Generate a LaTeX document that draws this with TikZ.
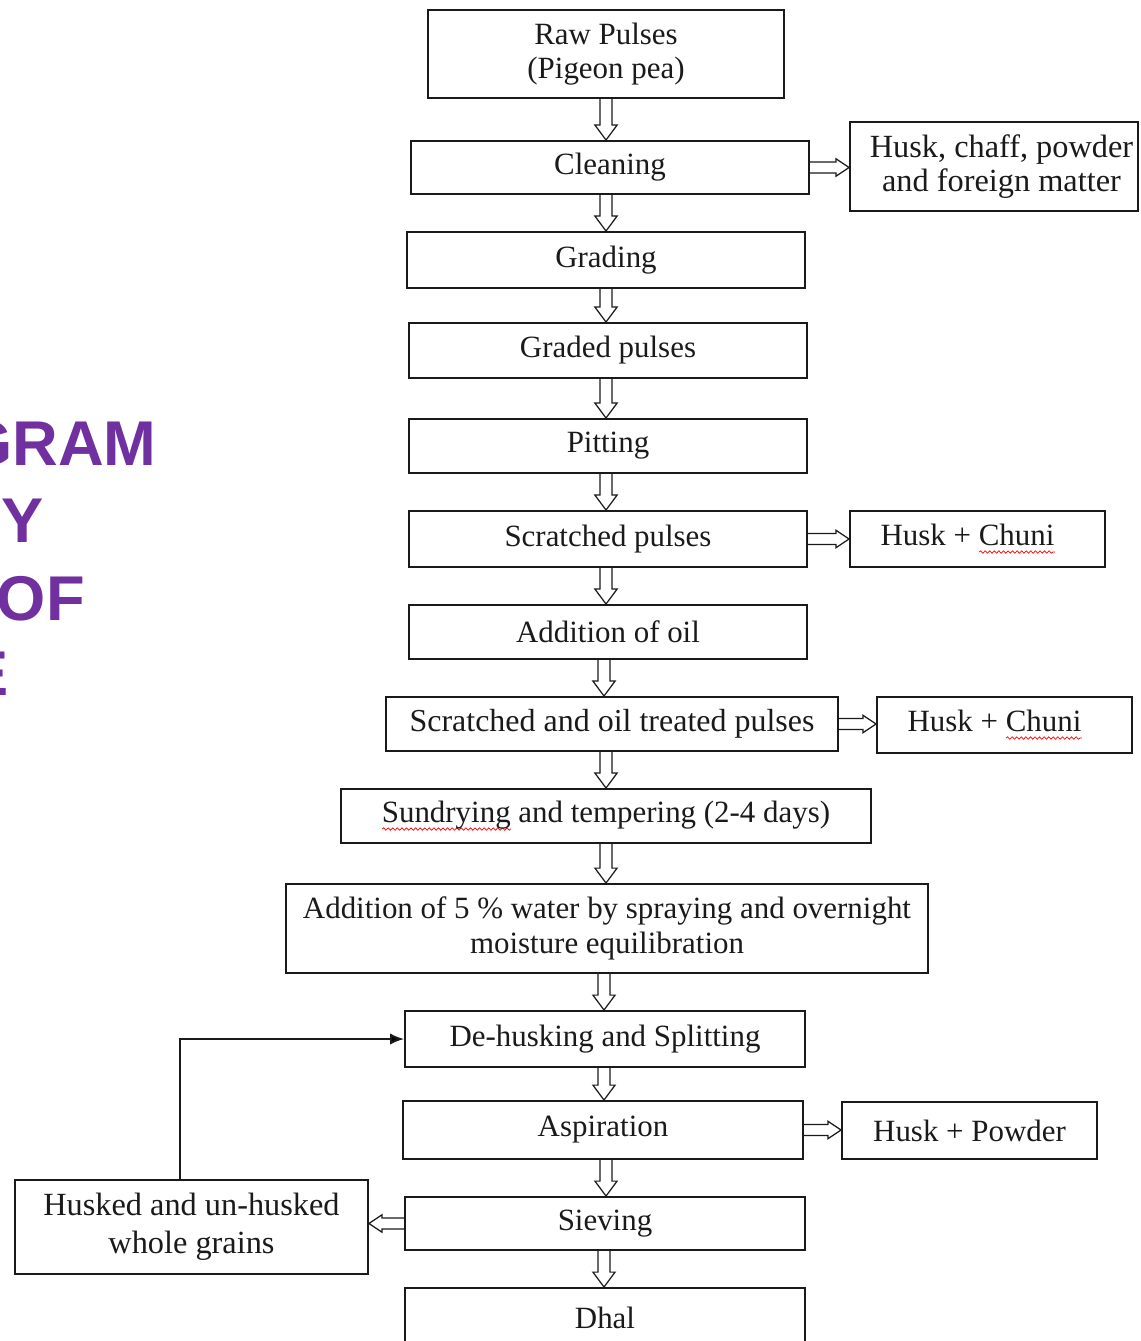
\documentclass[tikz,border=0pt]{standalone}
\usepackage{fontspec}
\setmainfont{Liberation Serif}
\newfontfamily\headfont{Liberation Sans}
\usetikzlibrary{calc,arrows.meta,decorations.pathmorphing}
\definecolor{ttl}{HTML}{7030A0}
\definecolor{ink}{HTML}{1A1A1A}
\newsavebox\spbox
\newcommand\spell[1]{\sbox\spbox{#1}\rlap{\raisebox{-3.5pt}{\tikz[baseline=0pt,x=1pt,y=1pt]\draw[red, line width=0.4pt, decorate, decoration={snake,amplitude=0.7pt,segment length=2.6pt}] (0,0) -- (\wd\spbox,0);}}\usebox\spbox}
% hollow block arrows drawn between named nodes
\newcommand\dnarr[3]{\draw[hol] let \p1=(#1.south -| #3), \p2=(#2.north -| #3) in
  (\x1-3.4pt,\y1) -- (\x1-3.4pt,\y2+8.5pt) -- (\x1-6.3pt,\y2+8.5pt) -- (\x1,\y2)
  -- (\x1+6.3pt,\y2+8.5pt) -- (\x1+3.4pt,\y2+8.5pt) -- (\x1+3.4pt,\y1);}
\newcommand\rtarr[2]{\draw[hol] let \p1=(#1.east), \p2=(#2.west |- #1.east) in
  (\x1,\y1-3.1pt) -- (\x2-7.5pt,\y1-3.1pt) -- (\x2-7.5pt,\y1-5pt) -- (\x2,\y1)
  -- (\x2-7.5pt,\y1+5pt) -- (\x2-7.5pt,\y1+3.1pt) -- (\x1,\y1+3.1pt);}
\newcommand\ltarr[2]{\draw[hol] let \p1=(#1.west), \p2=(#2.east |- #1.west) in
  (\x1,\y1-3.1pt) -- (\x2+7.5pt,\y1-3.1pt) -- (\x2+7.5pt,\y1-5pt) -- (\x2,\y1)
  -- (\x2+7.5pt,\y1+5pt) -- (\x2+7.5pt,\y1+3.1pt) -- (\x1,\y1+3.1pt);}
\begin{document}
\begin{tikzpicture}[x=0.02cm,y=-0.02cm,
  box/.style={draw=ink, line width=1.1pt, text=ink, inner sep=0pt, align=center,
    font=\fontsize{17.6pt}{19.6pt}\selectfont},
  hol/.style={draw=ink, line width=0.7pt, line join=miter},
  link/.style={draw=ink, line width=1.1pt, -{Latex[length=8pt,width=6.5pt]}},
  head/.style={anchor=base east, inner sep=0pt, text=ttl,
    font=\headfont\bfseries\fontsize{36pt}{36pt}\selectfont}]
\useasboundingbox (0,0) rectangle (1140,1341);

\node[head] (t1) at (157,465) {GRAM};
\node[head] (t2) at (44,542) {Y};
\node[head] (t3) at (85,620) {OF};
\node[head] (t4) at (9,695) {E};

\coordinate (sa) at (606,0);
\coordinate (sb) at (604,0);
\coordinate (fb) at (180,0);

\node[box, minimum width=7.12cm, minimum height=1.76cm] (raw) at (606,54) {Raw Pulses\\(Pigeon pea)};
\node[box, minimum width=7.96cm, minimum height=1.06cm] (clean) at (610,167.5) {Cleaning};
\node[box, minimum width=5.76cm, minimum height=1.78cm, font=\fontsize{18.4pt}{19.6pt}\selectfont] (husk) at (994,166.5) {\kern0.3cm Husk, chaff, powder\\\kern0.3cm and foreign matter};
\node[box, minimum width=7.96cm, minimum height=1.12cm] (grad) at (606,260) {Grading};
\node[box, minimum width=7.96cm, minimum height=1.10cm] (graded) at (608,350.5) {Graded pulses};
\node[box, minimum width=7.96cm, minimum height=1.08cm] (pit) at (608,446) {Pitting};
\node[box, minimum width=7.96cm, minimum height=1.12cm] (scr) at (608,539) {Scratched pulses};
\node[box, minimum width=5.10cm, minimum height=1.12cm] (hc1) at (977.5,539) {Husk + \spell{Chuni}\kern0.4cm};
\node[box, minimum width=7.96cm, minimum height=1.08cm] (oil) at (608,632) {Addition of oil};
\node[box, minimum width=9.04cm, minimum height=1.08cm, font=\fontsize{18.2pt}{19.6pt}\selectfont] (sot) at (612,724) {Scratched and oil treated pulses};
\node[box, minimum width=5.10cm, minimum height=1.12cm] (hc2) at (1004.5,725) {Husk + \spell{Chuni}\kern0.4cm};
\node[box, minimum width=10.6cm, minimum height=1.08cm] (sun) at (606,816) {\spell{Sundrying} and tempering (2-4 days)};
\node[box, minimum width=12.84cm, minimum height=1.78cm] (wat) at (607,928.5) {Addition of 5 \% water by spraying and overnight\\moisture equilibration};
\node[box, minimum width=8.0cm, minimum height=1.12cm] (deh) at (605,1039) {De-husking and Splitting};
\node[box, minimum width=8.0cm, minimum height=1.16cm] (asp) at (603,1130) {Aspiration};
\node[box, minimum width=5.10cm, minimum height=1.14cm] (hp) at (969.5,1130.5) {Husk + Powder};
\node[box, minimum width=8.0cm, minimum height=1.06cm] (sie) at (605,1223.5) {Sieving};
\node[box, minimum width=7.06cm, minimum height=1.88cm, font=\fontsize{18.4pt}{21.6pt}\selectfont] (hw) at (191.5,1227) {Husked and un-husked\\whole grains};
\node[box, minimum width=8.0cm, minimum height=1.2cm] (dhal) at (605,1318) {Dhal};

\dnarr{raw}{clean}{sa}
\dnarr{clean}{grad}{sa}
\dnarr{grad}{graded}{sa}
\dnarr{graded}{pit}{sa}
\dnarr{pit}{scr}{sa}
\dnarr{scr}{oil}{sa}
\dnarr{oil}{sot}{sb}
\dnarr{sot}{sun}{sa}
\dnarr{sun}{wat}{sa}
\dnarr{wat}{deh}{sb}
\dnarr{deh}{asp}{sb}
\dnarr{asp}{sie}{sa}
\dnarr{sie}{dhal}{sb}

\rtarr{clean}{husk}
\rtarr{scr}{hc1}
\rtarr{sot}{hc2}
\rtarr{asp}{hp}
\ltarr{sie}{hw}

\draw[link] (hw.north -| fb) |- (deh.west);
\end{tikzpicture}
\end{document}
